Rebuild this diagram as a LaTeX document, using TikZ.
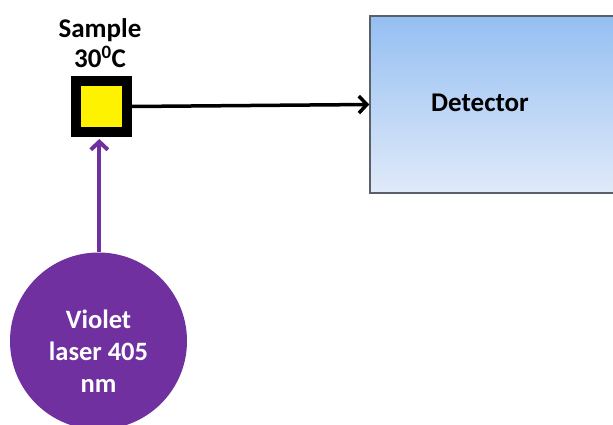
\documentclass[tikz,border=0pt]{standalone}
\usepackage{fontspec}
\setmainfont{Carlito}
\usetikzlibrary{arrows.meta}
\definecolor{violetc}{HTML}{7030A0}
\definecolor{dettop}{HTML}{95BFF2}
\definecolor{detbot}{HTML}{E0EAF9}
\definecolor{detborder}{HTML}{5A6068}
\begin{document}
\begin{tikzpicture}[x=1pt,y=-1pt,
  lbl/.style={font=\bfseries\fontsize{27}{30}\selectfont, align=center, inner sep=0pt},
  samplebox/.style={rectangle, draw=black, line width=10pt, fill=yellow, minimum size=51pt, inner sep=0pt},
  detbox/.style={rectangle, draw=detborder, line width=1.5pt, top color=dettop, bottom color=detbot, minimum width=250pt, minimum height=177pt, inner sep=0pt},
  laser/.style={circle, fill=violetc, minimum size=177pt, inner sep=0pt},
  beam/.style={line width=3.5pt, -{Straight Barb[length=8pt,width=17pt]}},
]
\useasboundingbox (0,0) rectangle (613,425);
\clip (0,0) rectangle (613,425);
\node[samplebox] (sample) at (101.5,106.5) {};
\node[lbl] (samplelbl) at (100,43) {Sample\\30\textsuperscript{0}C};
\node[detbox] (det) at (495,104.5) {};
\node[lbl] (detlbl) at (480,103) {Detector};
\node[laser] (laser) at (98.5,341) {};
\node[lbl, text=white, font=\bfseries\fontsize{26.5}{32}\selectfont] (laserlbl) at (98.5,351) {Violet\\laser 405\\nm};
\draw[beam, black] (sample.east) -- (det.west);
\draw[beam, violetc, line width=4pt] (laser.north -| 99.3,0) -- (99.3,139);
\end{tikzpicture}
\end{document}
